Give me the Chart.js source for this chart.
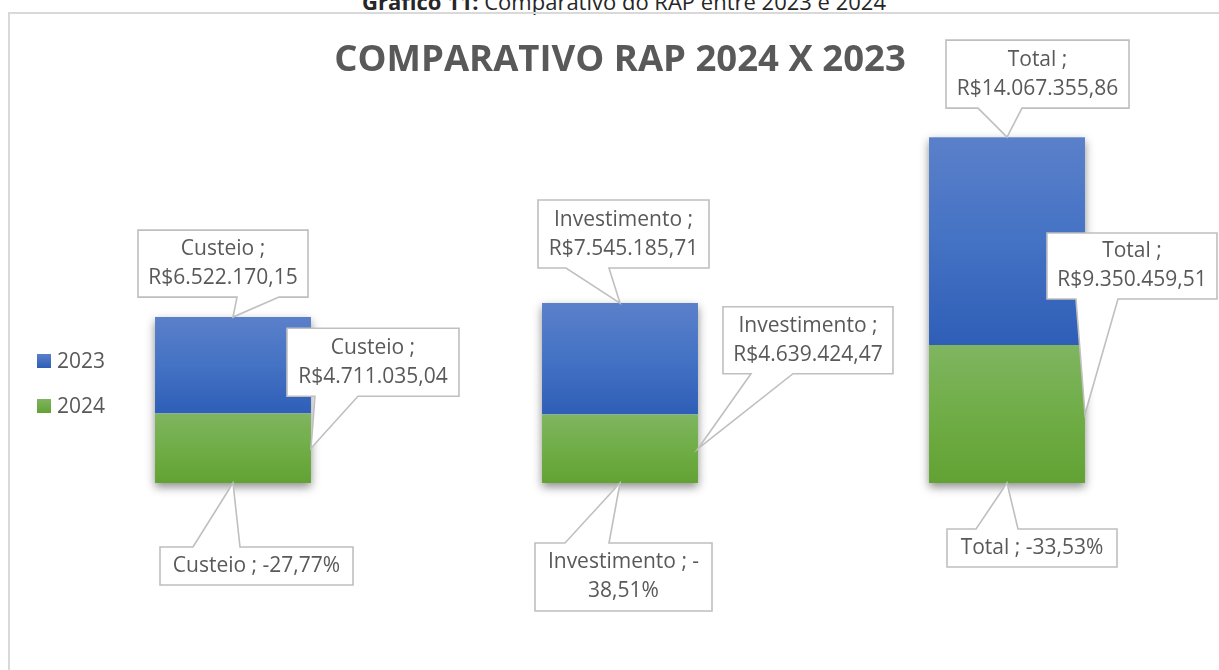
<!DOCTYPE html>
<html>
<head>
<meta charset="utf-8">
<script src="https://cdn.jsdelivr.net/npm/chart.js"></script>
<style>
  body { margin: 0; background: #fff; overflow: hidden; font-family: 'Open Sans', sans-serif; }
  #caption { position: absolute; left: 0; top: -10px; width: 1248px; text-align: center;
             font-size: 22px; line-height: 22px; color: #262626; white-space: nowrap; }
  #frame { position: absolute; left: 8px; top: 12px; width: 1300px; height: 800px; border: 2px solid #d9d9d9; }
  #wrap { position: absolute; left: 0; top: 0; width: 1219px; height: 670px; }
</style>
</head>
<body>
<div id="caption"><b>Gráfico 11:</b> Comparativo do RAP entre 2023 e 2024</div>
<div id="frame"></div>
<div id="wrap"><canvas id="rapChart"></canvas></div>
<script>
let categories = ['Custeio', 'Investimento', 'Total'];
let values2023 = [6522170.15, 7545185.71, 14067355.86];
let values2024 = [4711035.04, 4639424.47, 9350459.51];
let variation = [-27.77, -38.51, -33.53];   // % change 2024 x 2023
let seriesNames = ['2024', '2023', 'Variação'];

let blueStops = ['#5b80ca', '#4472c4', '#2e5eb7'];
let greenStops = ['#7fb560', '#70ad47', '#62a233'];

// callout boxes: offset of the box from its anchor point, size, and where the pointer leaves the box
let callouts = [
  [ // 2024 -> anchored on right edge of green segment
    { left: -24, top: -120, w: 172, h: 68, p1: 28, p2: 71 },
    { left: 25, top: -142, w: 170, h: 67, p1: 28, p2: 70 },
    { left: -38, top: -181, w: 170, h: 66, p1: 29, p2: 71 }
  ],
  [ // 2023 -> anchored on top of blue segment
    { left: -95, top: -87, w: 170, h: 67, p1: 99, p2: 141 },
    { left: -82, top: -103, w: 171, h: 68, p1: 28, p2: 71 },
    { left: -61, top: -97, w: 183, h: 68, p1: 32, p2: 76 }
  ],
  [ // variation -> anchored under the bar
    { left: -73, top: 64, w: 193, h: 38, p1: 33, p2: 80 },
    { left: -85, top: 60, w: 177, h: 68, p1: 30, p2: 74 },
    { left: -60, top: 46, w: 170, h: 38, p1: 29, p2: 71 }
  ]
];

function brl(v) {
  let parts = v.toFixed(2).split('.');
  return 'R$' + parts[0].replace(/\B(?=(\d{3})+(?!\d))/g, '.') + ',' + parts[1];
}
function pct(v) {
  return v.toFixed(2).replace('.', ',') + '%';
}

function segmentGradient(stops) {
  return function(c) {
    if (c.type !== 'data' || !c.chart.chartArea) return stops[1];
    let y = c.chart.scales.y;
    let start = c.datasetIndex === 0 ? 0 : values2024[c.dataIndex];
    let end = start + (c.datasetIndex === 0 ? values2024[c.dataIndex] : values2023[c.dataIndex]);
    let top = y.getPixelForValue(end), bottom = y.getPixelForValue(start);
    let g = c.chart.ctx.createLinearGradient(0, top, 0, bottom);
    g.addColorStop(0, stops[0]);
    g.addColorStop(0.5, stops[1]);
    g.addColorStop(1, stops[2]);
    return g;
  };
}

function wrapText(ctx, text, maxW) {
  let tokens = text.split(/(?<=[ \-])/);
  let lines = [], cur = '';
  tokens.forEach(t => {
    if (cur && ctx.measureText((cur + t).trimEnd()).width > maxW) {
      lines.push(cur.trimEnd());
      cur = t;
    } else {
      cur += t;
    }
  });
  if (cur) lines.push(cur.trimEnd());
  return lines;
}

let barShadow = {
  id: 'barShadow',
  beforeDatasetsDraw(chart) {
    let ctx = chart.ctx;
    let bottomMeta = chart.getDatasetMeta(0), topMeta = chart.getDatasetMeta(1);
    ctx.save();
    ctx.shadowColor = 'rgba(0,0,0,0.45)';
    ctx.shadowBlur = 9;
    ctx.shadowOffsetY = 4;
    ctx.fillStyle = '#ffffff';
    bottomMeta.data.forEach((el, i) => {
      let t = topMeta.data[i];
      ctx.fillRect(el.x - el.width / 2, t.y, el.width, el.base - t.y);
    });
    ctx.restore();
  }
};

let calloutLabels = {
  id: 'calloutLabels',
  afterDatasetsDraw(chart) {
    let ctx = chart.ctx;
    ctx.save();
    ctx.font = "21px 'Open Sans', sans-serif";
    ctx.lineWidth = 1.6;
    ctx.strokeStyle = '#bfbfbf';
    [0, 1, 2].forEach(di => {
      let meta = chart.getDatasetMeta(di);
      meta.data.forEach((el, i) => {
        let ax, ay, text;
        if (di === 0) {
          ax = el.x + el.width / 2; ay = (el.y + el.base) / 2;
          text = categories[i] + ' ; ' + brl(values2024[i]);
        } else if (di === 1) {
          ax = el.x; ay = el.y;
          text = categories[i] + ' ; ' + brl(values2023[i]);
        } else {
          ax = el.x; ay = el.base;
          text = categories[i] + ' ; ' + pct(variation[i]);
        }
        let s = callouts[di][i];
        let x0 = ax + s.left, y0 = ay + s.top, x1 = x0 + s.w, y1 = y0 + s.h;
        ctx.beginPath();
        if (di < 2) {
          ctx.moveTo(x0, y0); ctx.lineTo(x1, y0); ctx.lineTo(x1, y1);
          ctx.lineTo(x0 + s.p2, y1); ctx.lineTo(ax, ay); ctx.lineTo(x0 + s.p1, y1);
          ctx.lineTo(x0, y1);
        } else {
          ctx.moveTo(x0, y0); ctx.lineTo(x0 + s.p1, y0); ctx.lineTo(ax, ay);
          ctx.lineTo(x0 + s.p2, y0); ctx.lineTo(x1, y0); ctx.lineTo(x1, y1);
          ctx.lineTo(x0, y1);
        }
        ctx.closePath();
        ctx.fillStyle = '#ffffff';
        ctx.fill();
        ctx.stroke();
        let lines = wrapText(ctx, text, s.w - 10);
        let lh = 29, cy = (y0 + y1) / 2 - (lines.length - 1) * lh / 2;
        ctx.fillStyle = '#595959';
        ctx.textAlign = 'center';
        ctx.textBaseline = 'middle';
        lines.forEach((ln, k) => ctx.fillText(ln, (x0 + x1) / 2, cy + k * lh));
      });
    });
    ctx.restore();
  }
};

let sideLegend = {
  id: 'sideLegend',
  afterDraw(chart) {
    let ctx = chart.ctx;
    ctx.save();
    ctx.font = "21px 'Open Sans', sans-serif";
    ctx.textBaseline = 'middle';
    ctx.textAlign = 'left';
    [[1, blueStops, 354], [0, greenStops, 399]].forEach(([di, stops, y]) => {
      let g = ctx.createLinearGradient(0, y, 0, y + 14);
      g.addColorStop(0, stops[0]);
      g.addColorStop(1, stops[2]);
      ctx.fillStyle = g;
      ctx.fillRect(37, y, 14, 14);
      ctx.fillStyle = '#595959';
      ctx.fillText(chart.data.datasets[di].label, 57, y + 8);
    });
    ctx.restore();
  }
};

let myChart = document.getElementById('rapChart').getContext('2d');

let chart = new Chart(myChart, {
  type: 'bar',
  data: {
    labels: categories,
    datasets: [
      {
        label: seriesNames[0],
        data: values2024,
        backgroundColor: segmentGradient(greenStops)
      },
      {
        label: seriesNames[1],
        data: values2023,
        backgroundColor: segmentGradient(blueStops)
      },
      {
        label: seriesNames[2],
        data: variation,
        backgroundColor: 'rgba(0,0,0,0)'
      }
    ]
  },
  options: {
    responsive: true,
    maintainAspectRatio: false,
    animation: false,
    categoryPercentage: 1,
    barPercentage: 0.403,
    layout: { padding: { left: 39.5, right: 18.5, top: 0, bottom: 187 } },
    scales: {
      x: { stacked: true, display: false },
      y: { stacked: true, display: false, min: 0, max: 25000000 }
    },
    plugins: {
      legend: { display: false },
      tooltip: { enabled: false },
      title: {
        display: true,
        text: 'COMPARATIVO RAP 2024 X 2023',
        color: '#595959',
        font: { family: "'Open Sans', sans-serif", size: 36.5, weight: 'bold' },
        padding: { top: 39, bottom: 31 }
      }
    }
  },
  plugins: [barShadow, calloutLabels, sideLegend]
});
</script>
</body>
</html>
